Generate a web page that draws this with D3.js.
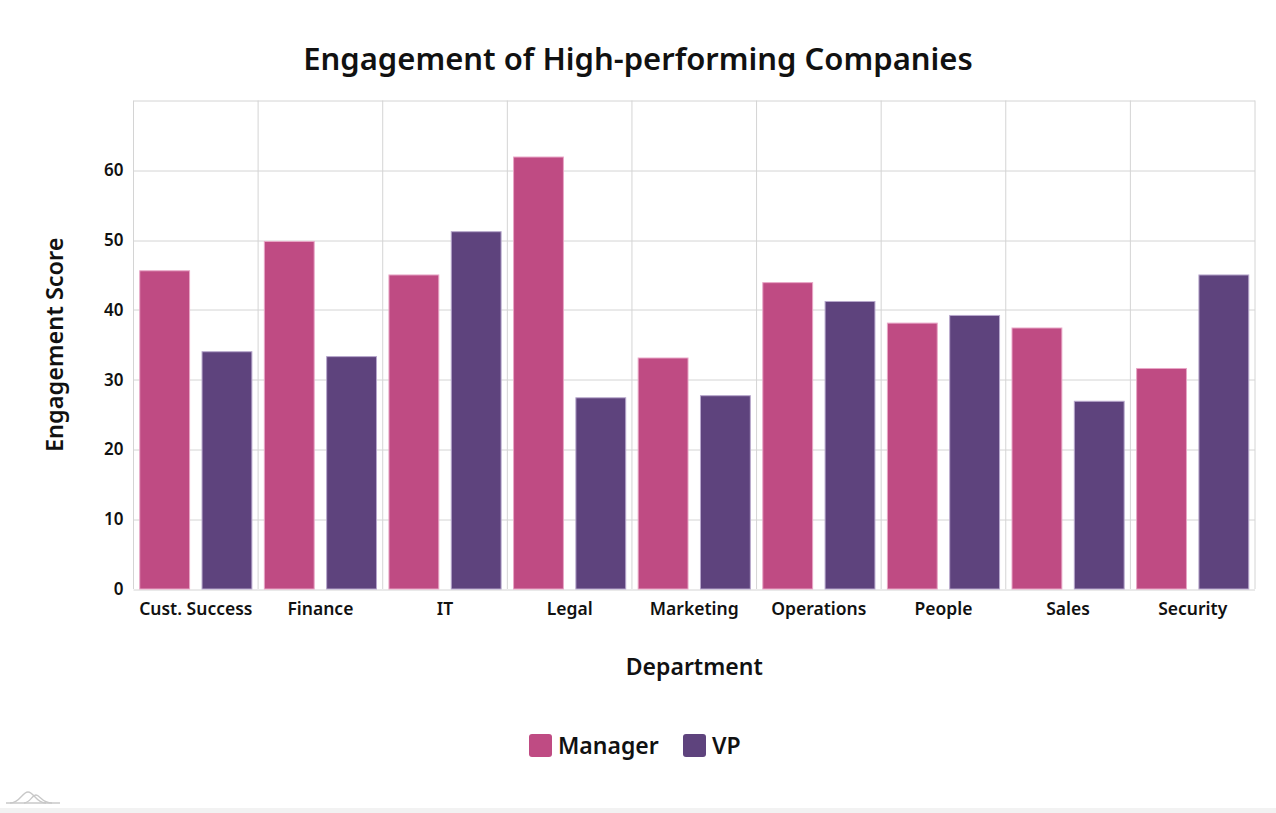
<!DOCTYPE html>
<html>
<head>
<meta charset="utf-8">
<script src="https://cdn.jsdelivr.net/npm/d3@7"></script>
<style>
  body { margin: 0; background: #fff; font-family: "Noto Sans", "Open Sans", sans-serif; }
  svg text { fill: #111; }
</style>
</head>
<body>
<div id="chart"></div>
<script>
// data
var departments = ["Cust. Success", "Finance", "IT", "Legal", "Marketing", "Operations", "People", "Sales", "Security"];
var seriesNames = ["Manager", "VP"];
var managerScores = [45.6, 49.8, 45.0, 61.9, 33.1, 43.9, 38.1, 37.4, 31.6];
var vpScores = [34.0, 33.3, 51.2, 27.4, 27.7, 41.2, 39.2, 26.9, 45.0];
var yTicks = [0, 10, 20, 30, 40, 50, 60];

var colors = ["#bf4b83", "#5e437d"];
var strokes = ["#e8a6c6", "#b7a7cc"];

var width = 1276, height = 813;
var margin = {top: 100.5, right: 21, bottom: 224, left: 133.5};
var plotW = width - margin.left - margin.right;
var plotH = height - margin.top - margin.bottom;

var svg = d3.select("#chart").append("svg")
    .attr("width", width)
    .attr("height", height);

var x = d3.scaleBand()
    .domain(departments)
    .range([0, plotW]);

var xInner = d3.scaleBand()
    .domain(seriesNames)
    .range([0, x.bandwidth()])
    .paddingInner(0.2)
    .paddingOuter(0.1);

var y = d3.scaleLinear()
    .domain([0, 70])
    .range([plotH, 0]);

var g = svg.append("g")
    .attr("transform", "translate(" + margin.left + "," + margin.top + ")");

// grid
g.append("g")
    .selectAll("line")
    .data(yTicks.concat([70]))
    .enter().append("line")
      .attr("x1", 0)
      .attr("x2", plotW)
      .attr("y1", function(d) { return Math.round(y(d)) + 0.5; })
      .attr("y2", function(d) { return Math.round(y(d)) + 0.5; })
      .style("stroke", "#d4d4d4");

g.append("g")
    .selectAll("line")
    .data(d3.range(departments.length + 1))
    .enter().append("line")
      .attr("x1", function(i) { return i * x.step(); })
      .attr("x2", function(i) { return i * x.step(); })
      .attr("y1", 0)
      .attr("y2", plotH)
      .style("stroke", "#d4d4d4");

// bars
var rows = departments.map(function(d, i) {
  return {dep: d, values: [managerScores[i], vpScores[i]]};
});

var groups = g.selectAll(".dep")
    .data(rows)
    .enter().append("g")
      .attr("class", "dep")
      .attr("transform", function(d) { return "translate(" + x(d.dep) + ",0)"; });

groups.selectAll("rect")
    .data(function(d) {
      return d.values.map(function(v, k) { return {name: seriesNames[k], value: v, k: k}; });
    })
    .enter().append("rect")
      .attr("x", function(d) { return xInner(d.name); })
      .attr("y", function(d) { return y(d.value); })
      .attr("width", xInner.bandwidth())
      .attr("height", function(d) { return plotH - y(d.value); })
      .style("fill", function(d) { return colors[d.k]; })
      .style("stroke", function(d) { return strokes[d.k]; })
      .style("stroke-width", 1);

// axes
var yAxis = g.append("g")
    .call(d3.axisLeft(y).tickValues(yTicks).tickSize(0).tickPadding(10));
yAxis.select(".domain").remove();
yAxis.selectAll("text")
    .style("font-size", "17px")
    .style("font-weight", 600)
    .style("font-family", "'Noto Sans', sans-serif");

var xAxis = g.append("g")
    .attr("transform", "translate(0," + plotH + ")")
    .call(d3.axisBottom(x).tickSize(0).tickPadding(14));
xAxis.select(".domain").remove();
xAxis.selectAll("text")
    .style("font-size", "17.5px")
    .style("font-weight", 600)
    .style("font-family", "'Noto Sans', sans-serif");

// titles
svg.append("text")
    .attr("x", 638)
    .attr("y", 70)
    .attr("text-anchor", "middle")
    .style("font-size", "31px")
    .style("font-weight", 600)
    .text("Engagement of High-performing Companies");

svg.append("text")
    .attr("x", margin.left + plotW / 2)
    .attr("y", 675)
    .attr("text-anchor", "middle")
    .style("font-size", "23px")
    .style("font-weight", 600)
    .text("Department");

svg.append("text")
    .attr("transform", "translate(63," + (margin.top + plotH / 2) + ") rotate(-90)")
    .attr("text-anchor", "middle")
    .style("font-size", "23.5px")
    .style("font-weight", 600)
    .text("Engagement Score");

// legend
var legend = svg.append("g").attr("transform", "translate(529,734)");
var legendX = [0, 154];
seriesNames.forEach(function(name, k) {
  var item = legend.append("g").attr("transform", "translate(" + legendX[k] + ",0)");
  item.append("rect")
      .attr("width", 23)
      .attr("height", 23)
      .attr("rx", 3)
      .style("fill", colors[k]);
  item.append("text")
      .attr("x", 29)
      .attr("y", 20)
      .style("font-size", "23px")
      .style("font-weight", 600)
      .text(name);
});

// footer strip and small logo
svg.append("rect")
    .attr("x", 0).attr("y", 808)
    .attr("width", width).attr("height", 5)
    .style("fill", "#f2f2f2");
var logo = svg.append("g").attr("transform", "translate(6,792)").style("fill", "none").style("stroke", "#c8c8c8").style("stroke-width", 1.3);
logo.append("path").attr("d", "M0,11 H54");
logo.append("path").attr("d", "M4,11 C14,11 16,0 22,0 C28,0 30,11 40,11");
logo.append("path").attr("d", "M18,11 C24,11 26,3 30,3 C34,3 36,11 46,11");
</script>
</body>
</html>
